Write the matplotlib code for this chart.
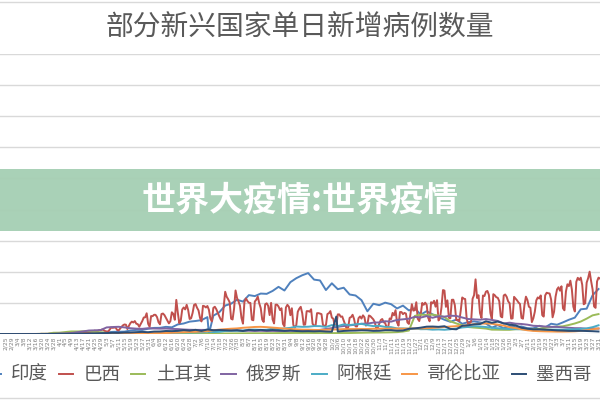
import matplotlib
matplotlib.use('Agg')
import matplotlib.pyplot as plt
from matplotlib.lines import Line2D
from matplotlib.patches import Rectangle
import pandas as pd

plt.rcParams['font.family'] = ['Noto Sans CJK SC', 'DejaVu Sans']

title = '部分新兴国家单日新增病例数量'
banner = '世界大疫情:世界疫情'
countries = ['印度', '巴西', '土耳其', '俄罗斯', '阿根廷', '哥伦比亚', '墨西哥']
colors = ['#4f81bd', '#c0504d', '#9bbb59', '#8064a2', '#4bacc6', '#f79646', '#2c4d75']
start = '2020-02-21'
end = '2021-04-01'
tick_start = '2020-02-25'

# daily new cases (thousands), sampled every 4 days from 2020-02-21
india = [0, 0, 0, 0, 0, 0, 0.02, 0.05, 0.1, 0.2,
         0.4, 0.6, 0.8, 0.9, 1.0, 1.3, 1.8, 1.8, 2.6, 3.4,
         3.6, 3.8, 5.6, 6.6, 6.5, 8.4, 9.8, 9.9, 11.5, 10.7,
         15.4, 16.9, 19.9, 20.9, 22.3, 27.1, 29.4, 34.9, 45.7, 48.7,
         55.1, 52.1, 62.5, 60.9, 65.0, 64.5, 69.2, 75.8, 69.9, 83.3,
         89.7, 94.4, 97.9, 87.4, 86.1, 70.6, 81.5, 72.0, 74.4, 63.5,
         61.9, 54.4, 36.5, 48.6, 46.3, 50.4, 47.9, 41.1, 45.6, 37.9,
         41.3, 31.1, 36.7, 31.5, 27.1, 22.9, 19.6, 23.1, 16.4, 19.1,
         20.3, 18.6, 16.9, 10.1, 14.3, 9.1, 13.1, 11.0, 12.1, 9.3,
         9.1, 13.2, 10.6, 16.5, 14.9, 18.7, 22.9, 26.3, 39.7, 40.7,
         62.3, 72.3]
india_gap_dates = ['2020-07-11']
india_gap = [0]

turkey = [0, 0, 0, 0, 0, 0, 0.02, 0.3, 0.3, 2.0,
          2.1, 3.1, 4.1, 4.1, 4.4, 4.6, 3.1, 2.9, 1.6, 1.8,
          1.1, 1.7, 1.0, 1.0, 1.2, 0.8, 1.0, 1.0, 1.5, 1.4,
          1.2, 1.5, 1.1, 1.2, 1.1, 1.0, 1.0, 0.9, 0.9, 0.9,
          1.0, 1.0, 1.2, 1.2, 1.2, 1.3, 1.3, 1.5, 1.5, 1.6,
          1.7, 1.7, 1.7, 1.6, 1.5, 1.5, 1.4, 1.5, 1.6, 1.6,
          1.8, 2.0, 2.2, 2.3, 2.4, 2.5, 2.7, 3.0, 3.9, 5.5,
          29.1, 31.2, 30.4, 31.2, 29.6, 27.2, 20.3, 17.0, 13.9, 11.2,
          10.3, 9.6, 8.7, 7.0, 6.9, 6.7, 6.7, 7.7, 7.9, 7.9,
          7.9, 8.4, 9.9, 11.0, 11.8, 12.4, 14.5, 16.9, 20.0, 24.7,
          30.0, 32.0]

russia = [0, 0, 0, 0, 0, 0, 0.02, 0.05, 0.06, 0.2,
          0.8, 0.95, 1.5, 2.8, 4.1, 5.6, 5.9, 6.4, 10.6, 11.2,
          11.6, 10.6, 9.3, 8.6, 8.3, 9.3, 8.8, 8.6, 8.8, 8.2,
          7.9, 7.2, 6.8, 6.6, 6.6, 6.6, 6.2, 6.1, 5.8, 5.6,
          5.5, 5.2, 5.2, 4.9, 5.1, 4.8, 4.9, 4.8, 4.7, 5.1,
          5.1, 5.4, 5.7, 6.2, 6.6, 8.1, 9.4, 11.6, 12.8, 13.9,
          15.0, 16.5, 16.6, 18.3, 18.6, 20.5, 19.9, 22.6, 23.6, 24.6,
          27.5, 26.4, 28.8, 26.1, 28.6, 27.9, 29.4, 29.0, 26.5, 24.1,
          23.5, 23.0, 24.0, 22.6, 21.0, 17.0, 18.2, 16.6, 16.1, 15.0,
          13.2, 12.8, 12.0, 11.5, 11.4, 10.6, 10.0, 9.4, 9.3, 8.4,
          9.0, 8.6]

argentina = [0, 0, 0, 0, 0, 0.01, 0.02, 0.05, 0.1, 0.1,
             0.1, 0.1, 0.1, 0.1, 0.1, 0.1, 0.15, 0.15, 0.2, 0.25,
             0.3, 0.35, 0.45, 0.7, 0.75, 0.9, 0.9, 1.2, 1.4, 1.4,
             2.1, 2.6, 2.3, 2.8, 2.6, 3.7, 3.1, 3.5, 4.9, 5.2,
             5.3, 5.4, 7.0, 7.0, 6.6, 6.8, 8.7, 7.9, 9.0, 9.9,
             12.0, 11.5, 11.7, 12.7, 12.6, 11.3, 14.3, 12.7, 15.5, 14.4,
             15.5, 16.3, 14.2, 12.7, 13.2, 11.4, 11.0, 9.0, 9.0, 8.5,
             8.7, 7.7, 7.8, 7.0, 7.3, 6.8, 7.6, 8.8, 10.5, 11.3,
             12.5, 12.0, 11.2, 10.0, 9.3, 8.6, 8.0, 7.8, 7.6, 7.0,
             6.0, 6.5, 6.3, 7.0, 7.0, 6.8, 7.5, 7.5, 8.2, 9.0,
             11.0, 14.0]

colombia = [0, 0, 0, 0, 0, 0, 0, 0.05, 0.1, 0.1,
            0.1, 0.15, 0.15, 0.1, 0.2, 0.25, 0.3, 0.35, 0.4, 0.45,
            0.5, 0.6, 0.7, 0.9, 1.0, 1.1, 1.3, 1.5, 1.6, 2.0,
            2.5, 3.0, 3.2, 3.5, 4.0, 4.6, 6.0, 7.0, 7.8, 8.5,
            9.0, 10.0, 10.6, 11.3, 11.5, 11.0, 10.3, 9.5, 8.6, 8.0,
            7.5, 7.0, 7.0, 6.6, 6.5, 6.8, 7.2, 7.4, 7.8, 7.9,
            8.0, 8.0, 8.0, 8.4, 8.5, 8.5, 8.6, 8.6, 8.5, 8.7,
            8.9, 9.0, 9.2, 9.8, 10.5, 11.3, 12.0, 12.6, 13.0, 14.5,
            15.8, 16.5, 17.0, 16.5, 15.0, 13.5, 11.0, 9.5, 7.6, 6.0,
            5.0, 4.5, 4.2, 4.0, 3.8, 3.8, 4.0, 4.3, 5.0, 6.0,
            7.5, 9.0]

mexico = [0, 0, 0, 0, 0, 0, 0, 0, 0.05, 0.1,
          0.15, 0.2, 0.3, 0.4, 0.6, 0.8, 1.0, 1.3, 1.5, 1.9,
          1.8, 2.4, 2.5, 3.0, 3.4, 2.9, 3.9, 4.0, 4.8, 4.6,
          5.0, 6.3, 5.4, 6.7, 4.9, 7.3, 6.0, 6.4, 6.0, 5.6,
          6.1, 4.8, 6.6, 5.9, 6.6, 5.8, 6.4, 5.8, 5.0, 5.6,
          4.8, 4.4, 4.6, 4.3, 4.6, 4.0, 3.7, 4.0, 4.9, 5.3,
          5.5, 6.0, 5.8, 5.0, 5.2, 6.2, 6.2, 5.3, 5.6, 8.3,
          9.0, 10.2, 11.8, 12.0, 11.5, 12.5, 8.2, 7.5, 13.2, 14.0,
          15.5, 16.0, 20.5, 18.0, 20.0, 17.0, 15.0, 14.0, 10.0, 8.5,
          7.5, 7.6, 7.0, 6.5, 5.8, 5.5, 5.0, 5.0, 5.1, 4.8,
          4.5, 4.0]
mexico_spike_dates = ['2020-10-05']
mexico_spike = [28.1]

# Brazil daily (thousands), one line per week starting 2020-02-21
brazil = [
    0, 0, 0, 0, 0, 0, 0,
    0, 0, 0, 0, 0, 0, 0,
    0, 0, 0, 0, 0, 0, 0,
    0.05, 0.05, 0.03, 0.1, 0.07, 0.09, 0.1,
    0.3, 0.2, 0.2, 0.3, 0.2, 0.4, 0.5,
    0.5, 0.5, 0.4, 0.3, 1.1, 1.1, 1.1,
    1.1, 1.2, 0.9, 0.9, 1.7, 2.2, 1.9,
    1.8, 1.1, 1.3, 1.4, 1.8, 3.1, 3.3,
    3.3, 2.9, 1.9, 2.1, 2.3, 3.0, 4.3,
    3.5, 5.5, 3.4, 4.6, 6.3, 6.2, 7.2,
    6.2, 4.6, 4.1, 4.1, 6.9, 10.5, 9.9,
    10.2, 10.6, 6.6, 5.6, 8.6, 11.4, 13.9,
    15.3, 14.9, 7.9, 13.1, 17.4, 19.9, 18.5,
    20.8, 16.5, 15.8, 11.7, 16.3, 20.6, 26.4,
    26.9, 33.3, 16.4, 11.6, 28.9, 28.6, 30.9,
    30.8, 27.1, 18.9, 15.6, 32.1, 32.9, 30.4,
    25.9, 21.7, 17.1, 20.6, 34.9, 32.2, 22.8,
    54.8, 34.7, 17.5, 21.4, 39.4, 42.7, 39.5,
    46.9, 38.7, 24.1, 25.2, 33.8, 46.7, 48.1,
    42.2, 37.9, 26.1, 20.2, 45.3, 44.6, 42.6,
    45.0, 39.0, 24.8, 20.3, 41.9, 43.8, 39.9,
    34.2, 28.5, 23.4, 20.3, 44.4, 67.9, 59.9,
    55.9, 51.1, 24.6, 23.3, 40.8, 70.0, 57.8,
    52.3, 45.4, 25.8, 16.6, 51.6, 57.2, 53.1,
    50.2, 49.9, 23.0, 22.0, 52.2, 55.2, 60.1,
    49.3, 41.6, 23.1, 19.4, 47.8, 49.3, 45.3,
    30.4, 50.0, 23.4, 17.0, 47.1, 47.2, 44.2,
    38.5, 41.4, 16.2, 12.4, 42.7, 46.9, 43.8,
    30.2, 41.4, 14.5, 10.3, 14.3, 35.8, 40.6,
    43.7, 33.5, 14.8, 15.2, 36.7, 36.8, 35.8,
    39.8, 16.4, 13.4, 13.4, 33.5, 33.5, 32.8,
    31.9, 14.3, 13.0, 14.3, 32.1, 33.4, 36.8,
    26.3, 24.6, 12.3, 11.8, 31.5, 31.5, 27.7,
    28.2, 21.6, 15.0, 8.4, 10.2, 26.0, 27.2,
    30.9, 24.1, 12.3, 12.1, 25.4, 28.2, 24.8,
    30.0, 26.9, 13.5, 15.7, 29.8, 28.6, 26.1,
    23.5, 18.9, 8.5, 10.1, 16.5, 22.3, 24.1,
    18.9, 17.5, 10.6, 10.5, 25.0, 23.9, 33.9,
    30.0, 38.3, 18.6, 13.4, 35.3, 35.3, 31.9,
    33.9, 32.8, 18.6, 16.2, 31.1, 47.9, 37.6,
    38.3, 51.1, 24.4, 20.8, 31.9, 49.9, 46.9,
    50.4, 46.9, 26.2, 20.4, 51.1, 49.2, 53.4,
    43.9, 54.4, 21.8, 25.2, 42.9, 70.6, 69.8,
    43.6, 54.1, 26.1, 25.2, 55.0, 55.1, 46.6,
    22.3, 22.9, 20.5, 37.6, 58.7, 56.8, 56.2,
    24.6, 15.8, 17.3, 20.0, 56.6, 62.5, 87.8,
    57.9, 62.3, 33.7, 25.8, 61.9, 61.0, 68.0,
    69.2, 62.9, 34.0, 23.6, 64.0, 62.2, 59.1,
    58.2, 52.7, 28.3, 26.8, 61.9, 63.5, 59.8,
    52.5, 49.4, 24.6, 25.1, 59.7, 56.9, 54.1,
    50.6, 48.2, 25.8, 24.6, 46.4, 60.0, 54.7,
    43.8, 42.3, 19.1, 25.2, 35.7, 53.9, 58.8,
    57.0, 62.0, 30.4, 28.0, 62.1, 66.3, 65.5,
    65.1, 55.5, 26.8, 35.8, 59.9, 71.7, 75.1,
    69.6, 76.7, 41.3, 38.1, 68.3, 79.9, 77.0,
    85.7, 71.7, 43.8, 36.2, 83.9, 90.3, 86.9,
    90.6, 79.1, 47.8, 49.3, 82.5, 89.9, 100.2,
    85.0, 71.7, 44.3, 42.0, 84.5, 90.6, 89.0,
]

y_max = 450000
y_step = 50000


def series4(vals, extra_dates=(), extra_vals=()):
    s = pd.Series(vals, index=pd.date_range(start, periods=len(vals), freq='4D'))
    if len(extra_dates):
        s = pd.concat([s, pd.Series(extra_vals, index=pd.to_datetime(list(extra_dates)))])
        s = s.sort_index()
    return s * 1000


data = [
    series4(india, india_gap_dates, india_gap),
    pd.Series(brazil, index=pd.date_range(start, periods=len(brazil), freq='D')) * 1000,
    series4(turkey),
    series4(russia),
    series4(argentina),
    series4(colombia),
    series4(mexico, mexico_spike_dates, mexico_spike),
]

fig = plt.figure(figsize=(6, 4), dpi=100)
ax = fig.add_axes([0.0, 0.165, 1.0, 0.70])

handles = []
for s, c, name in zip(data, colors, countries):
    h, = ax.plot(s.index, s.values, color=c, lw=1.4, label=name, solid_joinstyle='round')
    handles.append(h)

ax.set_ylim(0, y_max)
ax.set_yticks(range(0, y_max + 1, y_step))
ax.set_yticklabels([])
ax.tick_params(axis='y', length=0)
ax.grid(axis='y', color='#d9d9d9', lw=1.0)
ax.set_axisbelow(True)
for sp in ax.spines.values():
    sp.set_visible(False)

ax.set_xlim(pd.Timestamp(start), pd.Timestamp(end))
ticks = pd.date_range(tick_start, end, freq='4D')
ax.set_xticks(ticks)
ax.set_xticklabels([f'{d.month}/{d.day}' for d in ticks], rotation=90,
                   fontsize=4.3, color='#7f7f7f', family='DejaVu Sans')
ax.tick_params(axis='x', length=0, pad=2)

fig.text(0.5, 1 - 28 / 400, title, ha='center', va='center', fontsize=20,
         color='#595959')

fig.add_artist(Rectangle((0, 1 - 231 / 400), 1, 62 / 400, transform=fig.transFigure,
                         facecolor='#a6cfb4', edgecolor='none', alpha=0.96, zorder=10))
fig.text(0.5, 1 - 200 / 400, banner, ha='center', va='center', fontsize=24.5,
         fontweight='bold', color='white', zorder=11)

leg = fig.legend(handles=handles, labels=countries, loc='center',
                 bbox_to_anchor=(0.482, 1 - 375 / 400), ncol=7, frameon=False,
                 fontsize=13.3, handlelength=0.8, handletextpad=0.55,
                 columnspacing=0.55, labelcolor='#595959')

fig.add_artist(Line2D([0, 1], [1 - 1.5 / 400] * 2, transform=fig.transFigure,
                      color='#d9d9d9', lw=1))
fig.add_artist(Line2D([0, 1], [1 - 397.5 / 400] * 2, transform=fig.transFigure,
                      color='#d9d9d9', lw=1))

fig.savefig('out.png', dpi=100)
